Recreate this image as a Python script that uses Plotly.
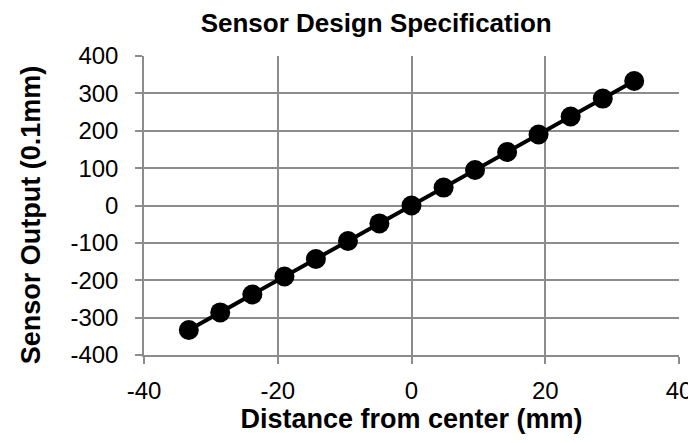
import plotly.graph_objects as go

distance_mm = [-33.3, -28.6, -23.8, -19.0, -14.3, -9.5, -4.8, 0.0,
               4.8, 9.5, 14.3, 19.0, 23.8, 28.6, 33.3]
sensor_output = [-333, -286, -238, -190, -143, -95, -48, 0,
                 48, 95, 143, 190, 238, 286, 333]
x_ticks = [-40, -20, 0, 20, 40]
x_tick_labels = ["-40", "-20", "0", "20", "40"]
y_ticks = [-400, -300, -200, -100, 0, 100, 200, 300, 400]
y_tick_labels = ["-400", "-300", "-200", "-100", "0", "100", "200", "300", "400"]

FONT = "Liberation Sans, Arial, sans-serif"

fig = go.Figure()
fig.add_trace(go.Scatter(
    x=distance_mm, y=sensor_output, mode="lines+markers",
    line=dict(color="black", width=4),
    marker=dict(color="black", size=20),
    showlegend=False,
))

axis_common = dict(
    showgrid=True, gridcolor="#8c8c8c", gridwidth=1.5,
    showline=True, linecolor="#8c8c8c", linewidth=1.5,
    ticks="outside", tickcolor="#8c8c8c", ticklen=7, tickwidth=1.5,
    zeroline=False,
    tickfont=dict(family=FONT, size=24, color="black"),
)

fig.update_layout(
    width=696, height=443,
    paper_bgcolor="white", plot_bgcolor="white",
    margin=dict(l=136, r=25, t=48, b=96),
    title=dict(text="<b>Sensor Design Specification</b>",
               font=dict(family=FONT, size=26, color="black"),
               x=0.529, xanchor="center", xref="container",
               y=0.966, yanchor="middle", yref="container"),
    xaxis=dict(range=[-40, 40], tickmode="array", tickvals=x_ticks,
               ticktext=x_tick_labels, ticklabelstandoff=6, **axis_common,
               title=dict(text="<b>Distance from center (mm)</b>",
                          font=dict(family=FONT, size=27, color="black"),
                          standoff=6)),
    yaxis=dict(range=[-400, 400], tickmode="array", tickvals=y_ticks,
               ticktext=y_tick_labels, ticklabelstandoff=12, **axis_common),
    annotations=[dict(
        text="<b>Sensor Output (0.1mm)</b>", textangle=-90,
        font=dict(family=FONT, size=27, color="black"),
        xref="paper", yref="paper", x=-0.211, y=0.468,
        xanchor="center", yanchor="middle", showarrow=False,
    )],
)

fig.write_html("out.html")
